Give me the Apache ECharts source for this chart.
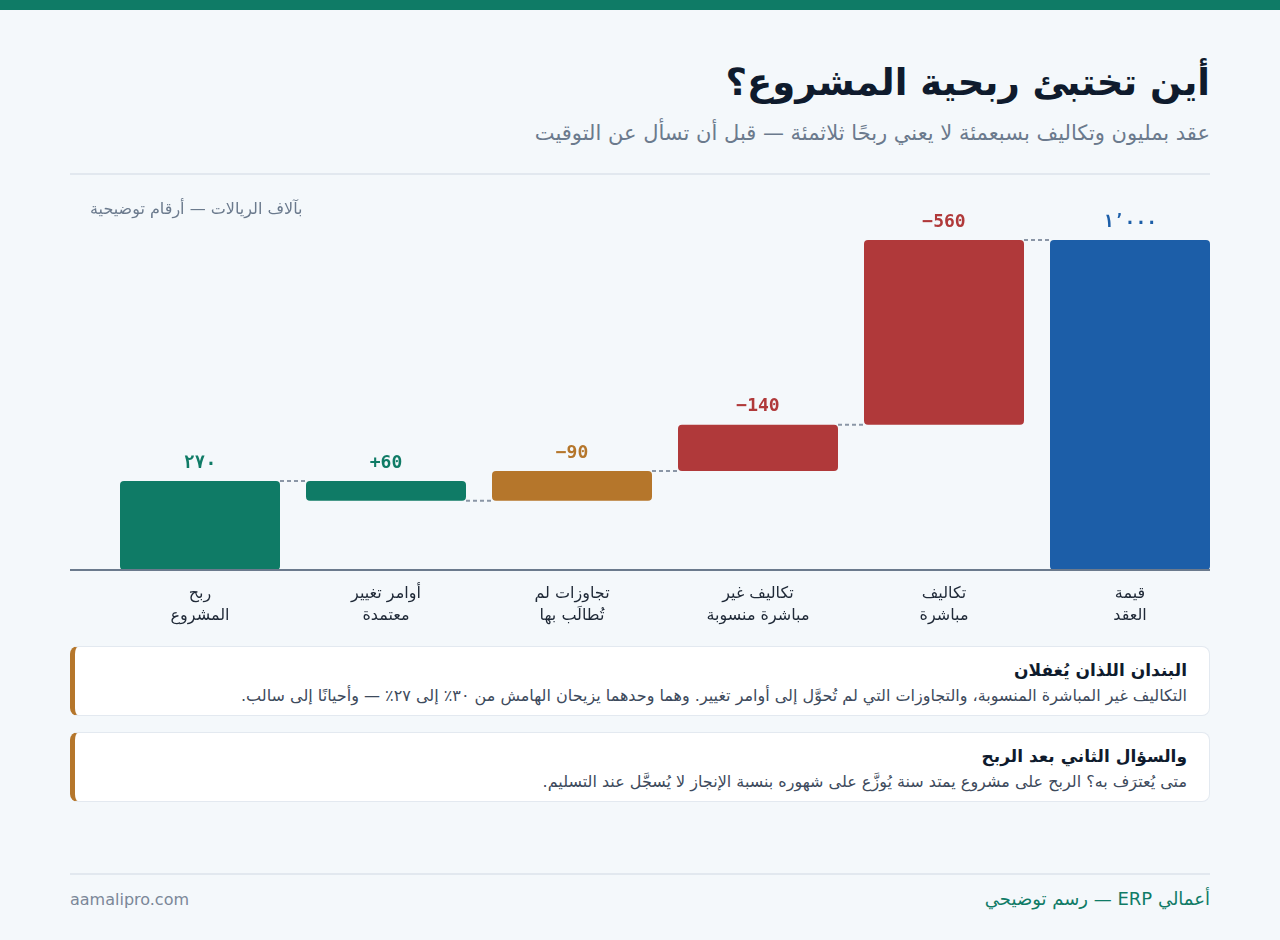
<!DOCTYPE html>
<html lang="ar" dir="rtl">
<head>
<meta charset="utf-8">
<script src="https://cdn.jsdelivr.net/npm/echarts@6/dist/echarts.min.js"></script>
<style>
  body { margin: 0; background: #f4f8fb; font-family: "DejaVu Sans", "Noto Sans", sans-serif; }
  .page { position: relative; width: 1280px; height: 940px; overflow: hidden; }
  .topbar { position: absolute; top: 0; left: 0; width: 1280px; height: 10px; background: #0f7b66; }
  .title { position: absolute; right: 70px; top: 59px; font-size: 37px; line-height: 48px; font-weight: bold; color: #0f1b2d; }
  .subtitle { position: absolute; right: 70px; top: 118px; font-size: 21px; line-height: 30px; color: #6b7a8d; }
  .sep { position: absolute; left: 70px; width: 1140px; height: 2px; background: #e2e8ef; }
  .unit { position: absolute; left: 90px; top: 198px; font-size: 16px; line-height: 22px; color: #6b7a8d; }
  #chart { position: absolute; left: 0; top: 180px; width: 1280px; height: 460px; }
  .card { position: absolute; left: 70px; width: 1140px; height: 70px; box-sizing: border-box; background: #fff;
          border: 1px solid #e3e9f0; border-left: 5px solid #b5762b; border-radius: 8px; }
  .card h4 { margin: 0; position: absolute; right: 22px; top: 12px; font-size: 17px; line-height: 22px; color: #0f1b2d; }
  .card p { margin: 0; position: absolute; right: 22px; top: 38px; font-size: 16px; line-height: 22px; color: #3d4a5c; white-space: nowrap; }
  .foot-l { position: absolute; left: 70px; top: 889px; font-size: 16px; line-height: 22px; color: #7b8798; }
  .foot-r { position: absolute; right: 70px; top: 887px; font-size: 18px; line-height: 24px; color: #0f7b66; }
</style>
</head>
<body>
<div class="page">
  <div class="topbar"></div>
  <div class="title">أين تختبئ ربحية المشروع؟</div>
  <div class="subtitle">عقد بمليون وتكاليف بسبعمئة لا يعني ربحًا ثلاثمئة — قبل أن تسأل عن التوقيت</div>
  <div class="sep" style="top:173px"></div>
  <div id="chart" dir="ltr"></div>
  <div class="unit">بآلاف الريالات — أرقام توضيحية</div>
  <div class="card" style="top:646px">
    <h4>البندان اللذان يُغفلان</h4>
    <p>التكاليف غير المباشرة المنسوبة، والتجاوزات التي لم تُحوَّل إلى أوامر تغيير. وهما وحدهما يزيحان الهامش من ٣٠٪ إلى ٢٧٪ — وأحيانًا إلى سالب.</p>
  </div>
  <div class="card" style="top:732px">
    <h4>والسؤال الثاني بعد الربح</h4>
    <p>متى يُعترَف به؟ الربح على مشروع يمتد سنة يُوزَّع على شهوره بنسبة الإنجاز لا يُسجَّل عند التسليم.</p>
  </div>
  <div class="sep" style="top:873px"></div>
  <div class="foot-l">aamalipro.com</div>
  <div class="foot-r">أعمالي ERP — رسم توضيحي</div>
</div>
<script>
// categories, right to left
const categories = ['قيمة\nالعقد', 'تكاليف\nمباشرة', 'تكاليف غير\nمباشرة منسوبة', 'تجاوزات لم\nتُطالَب بها', 'أوامر تغيير\nمعتمدة', 'ربح\nالمشروع'];
// step values; last one is the total
const values = [1000, -560, -140, -90, 60, 270];
const valueLabels = ['١٬٠٠٠', '−560', '−140', '−90', '+60', '٢٧٠'];
const kinds = ['total', 'cost', 'cost', 'overrun', 'gain', 'total-profit'];

const colors = {
    'total': '#1c5ea8',
    'cost': '#b0393a',
    'overrun': '#b5762b',
    'gain': '#0f7b66',
    'total-profit': '#0f7b66'
};

// build the stack: invisible base + visible piece, and the running level for connectors
const base = [];
const pieces = [];
const levels = [];
let running = 0;
values.forEach(function (v, i) {
    if (i === 0 || i === values.length - 1) {
        base.push(0);
        pieces.push(v);
        running = v;
    } else {
        const next = running + v;
        base.push(Math.min(running, next));
        pieces.push(Math.abs(v));
        running = next;
    }
    if (i < values.length - 1) levels.push([i, running]);
});

const BAR_W = 160;

echarts.init(document.querySelector('#chart')).setOption({
    animation: false,
    grid: { left: 107, right: 57, top: 60, bottom: 70 },
    xAxis: {
        type: 'category',
        inverse: true,
        data: categories,
        axisLine: { show: false },
        axisTick: { show: false },
        axisLabel: {
            margin: 13,
            fontSize: 16,
            lineHeight: 22,
            color: '#1f2937',
            fontFamily: 'DejaVu Sans'
        }
    },
    yAxis: {
        type: 'value',
        min: 0,
        max: 1000,
        show: false
    },
    graphic: [{
        type: 'line',
        shape: { x1: 70, y1: 390, x2: 1210, y2: 390 },
        style: { stroke: '#6b7a8d', lineWidth: 2 },
        z: 10
    }],
    series: [{
        name: 'base',
        type: 'bar',
        stack: 'wf',
        barWidth: BAR_W,
        itemStyle: { color: 'transparent' },
        silent: true,
        data: base
    },
    {
        name: 'value',
        type: 'bar',
        stack: 'wf',
        barWidth: BAR_W,
        data: pieces.map(function (v, i) {
            return {
                value: v,
                itemStyle: { color: colors[kinds[i]], borderRadius: 4 },
                label: { color: colors[kinds[i]] }
            };
        }),
        label: {
            show: true,
            position: 'top',
            distance: 9,
            fontSize: 18,
            fontWeight: 'bold',
            fontFamily: 'DejaVu Sans Mono',
            formatter: function (p) { return valueLabels[p.dataIndex]; }
        }
    },
    {
        name: 'connectors',
        type: 'custom',
        silent: true,
        data: levels,
        renderItem: function (params, api) {
            const a = api.coord([api.value(0), api.value(1)]);
            const b = api.coord([api.value(0) + 1, api.value(1)]);
            const x1 = Math.min(a[0], b[0]) + BAR_W / 2;
            const x2 = Math.max(a[0], b[0]) - BAR_W / 2;
            return {
                type: 'line',
                shape: { x1: x1, y1: a[1], x2: x2, y2: a[1] },
                style: { stroke: '#8a96a6', lineWidth: 2, lineDash: [4, 3] }
            };
        }
    }
    ]
});
</script>
</body>
</html>
